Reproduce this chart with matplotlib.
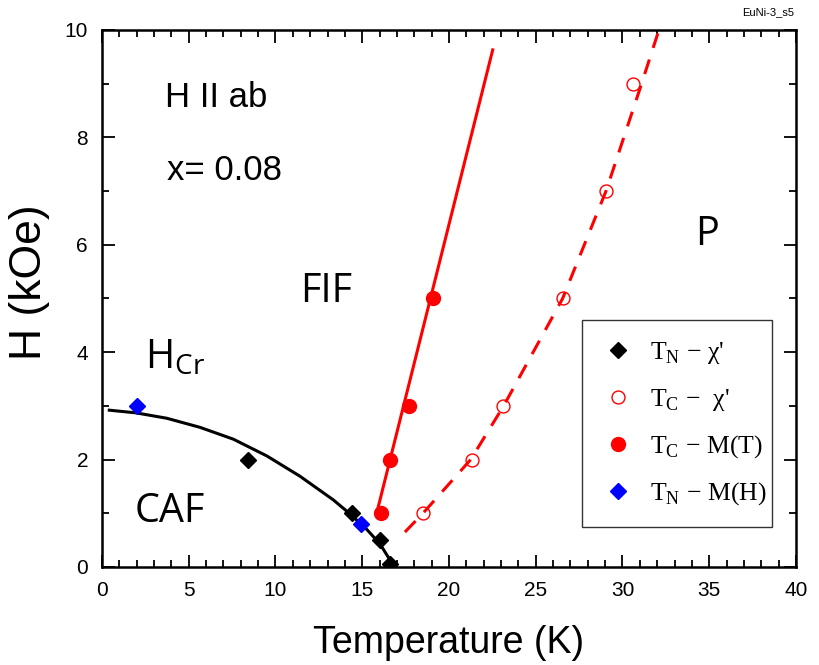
import matplotlib
matplotlib.use("Agg")
import matplotlib.pyplot as plt

# ---- data (T in K, H in kOe) ----
tn_chi_T = [8.4, 14.4, 16.0, 16.6]
tn_chi_H = [2.0, 1.0, 0.5, 0.05]

tc_chi_T = [18.5, 21.3, 23.1, 26.6, 29.05, 30.6]
tc_chi_H = [1.0, 2.0, 3.0, 5.0, 7.0, 9.0]

tc_m_T = [16.1, 16.6, 17.7, 19.1]
tc_m_H = [1.0, 2.0, 3.0, 5.0]

tn_mh_T = [2.0, 14.95]
tn_mh_H = [3.0, 0.8]

# guide-to-the-eye phase boundaries
caf_line_T = [0.42, 1.96, 3.73, 5.65, 7.57, 9.49, 11.41, 13.33, 14.29, 15.26, 16.02, 16.6, 16.79]
caf_line_H = [2.92, 2.87, 2.77, 2.60, 2.38, 2.07, 1.69, 1.25, 0.99, 0.70, 0.43, 0.13, 0.0]

fif_line_T = [15.83, 22.52]
fif_line_H = [1.0, 9.63]

p_line_T = [17.46, 18.5, 21.25, 23.15, 26.55, 29.05, 31.0, 32.1]
p_line_H = [0.65, 1.0, 2.0, 3.0, 5.0, 7.0, 8.9, 10.0]

x_ticks = [0, 5, 10, 15, 20, 25, 30, 35, 40]
y_ticks = [0, 2, 4, 6, 8, 10]

fig = plt.figure(figsize=(8.2, 6.65), dpi=100)
ax = fig.add_axes([0.1244, 0.1474, 0.8463, 0.8075])

ax.plot(caf_line_T, caf_line_H, color="black", lw=2.2, zorder=4)
ax.plot(fif_line_T, fif_line_H, color="red", lw=2.2, zorder=3)
ax.plot(p_line_T, p_line_H, color="red", lw=2.2, dashes=(5, 4), zorder=4)

ax.plot(tn_chi_T, tn_chi_H, ls="none", marker="D", ms=8.3, color="black",
        label="T$_\\mathregular{N}$ \u2212 \u03c7'", zorder=5)
ax.plot(tc_chi_T, tc_chi_H, ls="none", marker="o", ms=9.3, mfc="white", mec="red",
        mew=1.0, label="T$_\\mathregular{C}$ \u2212  \u03c7'", zorder=3)
ax.plot(tc_m_T, tc_m_H, ls="none", marker="o", ms=10, color="red",
        label="T$_\\mathregular{C}$ \u2212 M(T)", zorder=5)
ax.plot(tn_mh_T, tn_mh_H, ls="none", marker="D", ms=8.3, color="blue",
        label="T$_\\mathregular{N}$ \u2212 M(H)", zorder=5)

ax.set_xlim(0, 40)
ax.set_ylim(0, 10)
ax.set_xticks(x_ticks)
ax.set_yticks(y_ticks)
ax.set_xticks(range(0, 41), minor=True)
ax.set_yticks(range(0, 11), minor=True)
ax.tick_params(which="both", direction="in", top=True, right=True, width=1.3, colors="black")
ax.tick_params(which="major", length=9)
ax.tick_params(which="minor", length=5)
ax.tick_params(axis="x", which="major", pad=10)
ax.tick_params(axis="y", which="major", pad=10)
for lab in ax.get_xticklabels():
    lab.set_fontfamily("Liberation Sans")
    lab.set_fontsize(15)
for lab in ax.get_yticklabels():
    lab.set_fontfamily("Liberation Sans")
    lab.set_fontsize(15)
for sp in ax.spines.values():
    sp.set_linewidth(1.8)

ax.set_xlabel("Temperature (K)", fontsize=27, family="Liberation Sans", labelpad=18)
ax.set_ylabel("H (kOe)", fontsize=32, family="Liberation Sans")
ax.yaxis.set_label_coords(-0.075, 0.531)

# annotations
ax.text(3.63, 8.57, "H II ab", fontsize=25, family="Liberation Sans")
ax.text(3.75, 7.2, "x= 0.08", fontsize=25, family="Liberation Sans")
reg = dict(fontsize=28.5, family="Open Sans")
ax.text(11.4, 4.94, "FIF", **reg)
ax.text(2.45, 3.7, "H$_\\mathregular{Cr}$", **reg)
ax.text(1.9, 0.84, "CAF", **reg)
ax.text(34.2, 6.0, "P", **reg)

fig.text(0.969, 0.982, "EuNi-3_s5", fontsize=8, family="Liberation Sans",
         ha="right", va="center")

leg = ax.legend(loc="upper left", bbox_to_anchor=(0.6916, 0.46, 0.274, 0.0),
                mode="expand", frameon=True, fancybox=False, shadow=False,
                prop={"family": "Liberation Serif", "size": 18.5},
                handlelength=1.25, handletextpad=0.62, labelspacing=0.8,
                borderpad=0.78, borderaxespad=0.0, numpoints=1)
leg.get_frame().set_edgecolor("black")
leg.get_frame().set_linewidth(1.0)

fig.savefig("out.png", dpi=100)
